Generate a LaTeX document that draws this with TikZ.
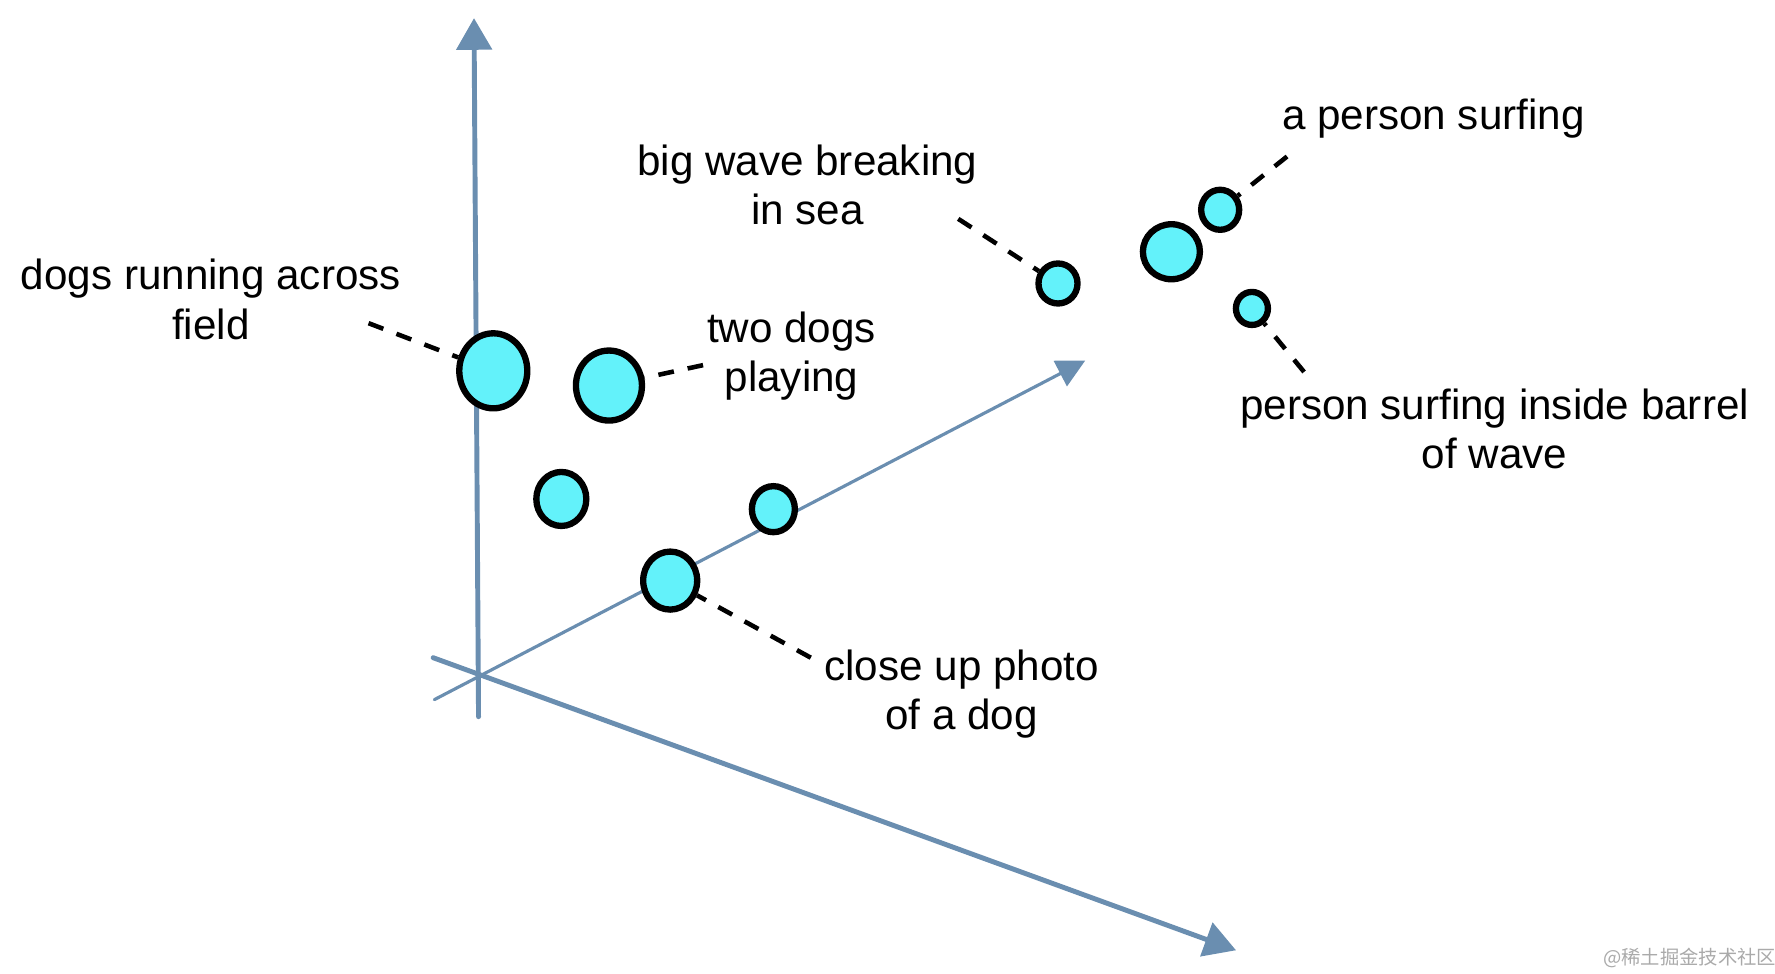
\documentclass[tikz,border=0pt]{standalone}
\usepackage{fontspec}
\setmainfont{Liberation Sans}
\newfontfamily\cjkfont{Noto Sans CJK SC}
\usetikzlibrary{arrows.meta,shapes.geometric}
\definecolor{axisblue}{RGB}{106,142,176}
\definecolor{dotcyan}{RGB}{99,242,250}
\definecolor{markgray}{RGB}{170,170,170}

\begin{document}
\begin{tikzpicture}[x=0.01134cm,y=-0.01134cm,
  every node/.style={font=\fontsize{12pt}{14pt}\selectfont,align=center},
  axis/.style={draw=axisblue,line width=1.4pt,line cap=round},
  dot/.style={ellipse,draw=black,line width=1.8pt,fill=dotcyan,inner sep=0pt},
  leader/.style={draw=black,line width=1.3pt,dash pattern=on 4.5pt off 4pt},]

\useasboundingbox (0,0) rectangle (1565.3,858.9);

% Axes end points
\coordinate (up start) at (422,632);
\coordinate (up end) at (418,16);
\coordinate (right start) at (382,580);
\coordinate (right end) at (1090,838);
\coordinate (depth start) at (383,617);
\coordinate (depth end) at (957,318);

% Axes
\draw [axis,-{Triangle[width=10pt,length=9pt]}] (up start) -- (up end);
\draw [axis,-{Triangle[width=10pt,length=9pt]}] (right start) -- (right end);
\draw [axis,line width=0.9pt,-{Triangle[width=8pt,length=8pt]}] (depth start) -- (depth end);

% Points (embeddings)
\node [dot,minimum width=0.68cm,minimum height=0.75cm] (field) at (435,327) {};
\node [dot,minimum width=0.66cm,minimum height=0.70cm] (playing) at (537,340) {};
\node [dot,minimum width=0.50cm,minimum height=0.54cm] (dog a) at (495,440) {};
\node [dot,minimum width=0.43cm,minimum height=0.46cm] (dog b) at (682,449) {};
\node [dot,minimum width=0.54cm,minimum height=0.58cm] (photo) at (591,512) {};
\node [dot,minimum width=0.39cm,minimum height=0.40cm] (wave) at (933,250) {};
\node [dot,minimum width=0.57cm,minimum height=0.55cm] (sea) at (1033,222) {};
\node [dot,minimum width=0.38cm,minimum height=0.40cm] (surfing) at (1076,185) {};
\node [dot,minimum width=0.32cm,minimum height=0.33cm] (barrel) at (1104,272) {};

% Labels
\node (field label) at (186,264) {dogs running across\\field};
\node (playing label) at (698,314) {two dogs\\playing};
\node (photo label) at (848,612) {close up photo\\of a dog};
\node (wave label) at (712,163) {big wave breaking\\in sea};
\node (surfing label) at (1264,105) {a person surfing};
\node (barrel label) at (1318,378) {person surfing inside barrel\\of wave};

% Leader ends
\coordinate (field end) at (325,285);
\coordinate (playing end) at (620,322);
\coordinate (photo end) at (715,580);
\coordinate (wave end) at (845,193);
\coordinate (surfing end) at (1135,138);
\coordinate (barrel end) at (1150,328);

% Leaders
\draw [leader] (field end) -- (field);
\draw [leader] (playing end) -- (playing);
\draw [leader] (photo end) -- (photo);
\draw [leader] (wave end) -- (wave);
\draw [leader] (surfing end) -- (surfing);
\draw [leader] (barrel end) -- (barrel);

% Watermark
\node [font=\cjkfont\fontsize{5.5pt}{6pt}\selectfont,text=markgray] (mark) at (1490,845) {@稀土掘金技术社区};

\end{tikzpicture}
\end{document}
